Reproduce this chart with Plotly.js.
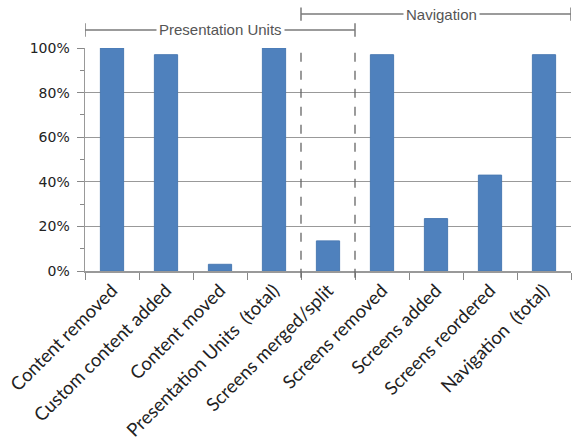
<!DOCTYPE html>
<html><head><meta charset="utf-8">
<script src="https://cdn.plot.ly/plotly-3.0.1.min.js"></script>
<style>body{margin:0;background:#fff}#c{width:582px;height:447px}</style>
</head><body><div id="c"></div>
<script>
const categories = ["Content removed","Custom content added","Content moved","Presentation Units \u00a0(total)","Screens merged/split","Screens removed","Screens added","Screens reordered","Navigation \u00a0(total)"];
const values = [1.00, 0.97, 0.03, 1.00, 0.135, 0.97, 0.235, 0.43, 0.97];
const groupLabels = ["Presentation Units","Navigation"];
const groupStart = [-0.5, 3.5];
const groupEnd = [4.5, 8.5];
const groupLevel = [1.081, 1.152];
const groupLabelPos = [2.0, 6.1];
const dividers = [3.5, 4.5];

const bracketColor = "#7a7a7a";
const shapes = [];
const annotations = [];
for (let i = 0; i < groupLabels.length; i++) {
  const y = groupLevel[i];
  shapes.push({type:"line", xref:"x", yref:"paper", x0:groupStart[i], x1:groupEnd[i], y0:y, y1:y, line:{color:bracketColor, width:1.5}});
  shapes.push({type:"line", xref:"x", yref:"paper", x0:groupStart[i], x1:groupStart[i], y0:y-0.03, y1:y+0.03, line:{color:bracketColor, width:1.5}});
  shapes.push({type:"line", xref:"x", yref:"paper", x0:groupEnd[i], x1:groupEnd[i], y0:y-0.03, y1:y+0.03, line:{color:bracketColor, width:1.5}});
  annotations.push({xref:"x", yref:"paper", x:groupLabelPos[i], y:y, text:groupLabels[i], showarrow:false, bgcolor:"#fff", borderpad:2, font:{family:"Liberation Sans, Arial", size:15, color:"#555"}, xanchor:"center", yanchor:"middle"});
}
for (const d of dividers) {
  shapes.push({type:"line", xref:"x", yref:"paper", x0:d, x1:d, y0:-0.03, y1:1, line:{color:"#666", width:1.3, dash:"dash"}});
}

Plotly.newPlot("c", [{
  type:"bar", x:categories, y:values,
  marker:{color:"#4f81bd", line:{color:"#4a7ab3", width:1}},
  width:0.43, hoverinfo:"none"
}], {
  width:582, height:447,
  margin:{l:85, r:11, t:48, b:176},
  paper_bgcolor:"#fff", plot_bgcolor:"#fff",
  showlegend:false,
  bargap:0.57,
  xaxis:{type:"category", tickangle:-45, tickson:"boundaries", ticks:"outside", ticklen:7, tickcolor:"#888",
    showline:true, linecolor:"#999", linewidth:1.5, showgrid:false,
    tickfont:{family:"Lato, Open Sans", size:18.5, color:"#222"}, range:[-0.5,8.5], fixedrange:true},
  yaxis:{range:[0,1], dtick:0.2, tickformat:".0%", ticks:"outside", ticklen:7, tickcolor:"#888",
    showline:true, linecolor:"#999", linewidth:1.5, showgrid:true, gridcolor:"#999", gridwidth:1.3,
    zeroline:false, ticklabelstandoff:4,
    minor:{dtick:0.1, ticks:"outside", ticklen:4, tickcolor:"#888", showgrid:false},
    tickfont:{family:"DejaVu Sans, Verdana", size:14, color:"#222"}, fixedrange:true},
  shapes:shapes, annotations:annotations
}, {displayModeBar:false, staticPlot:true});
</script></body></html>
